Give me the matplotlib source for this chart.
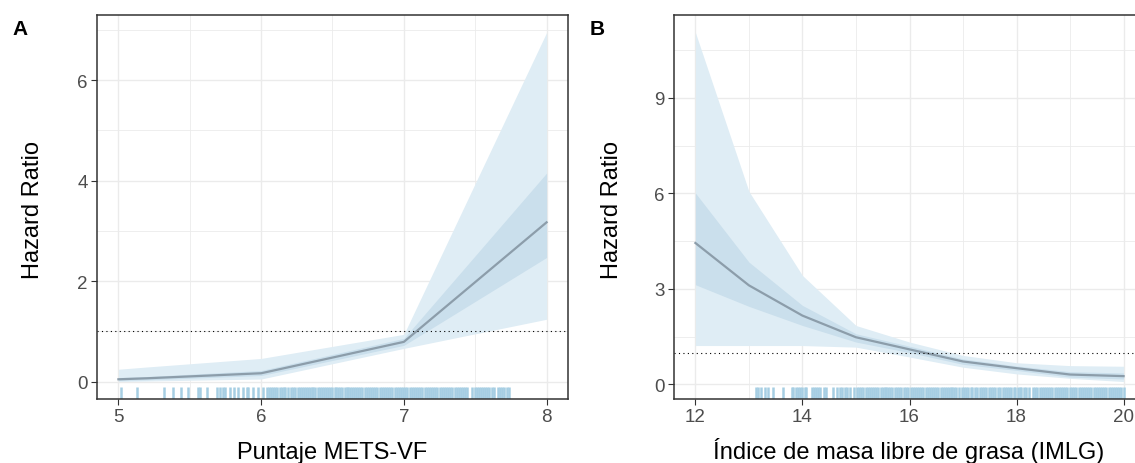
"""
Hazard ratio curves for METS-VF and IMLG (two panels, ggplot-like look)
"""

import matplotlib
matplotlib.use('Agg')
import matplotlib.pyplot as plt
import numpy as np

plt.rcParams['font.family'] = ['Liberation Sans', 'DejaVu Sans']

# ---- panel A: Puntaje METS-VF ----
a_x = [5, 5.2, 6, 7, 8]
a_hr = [0.045, 0.065, 0.165, 0.79, 3.17]
a_lo95 = [0.0, 0.01, 0.05, 0.66, 1.24]
a_hi95 = [0.245, 0.29, 0.46, 0.94, 6.95]
a_lo50 = [0.02, 0.035, 0.12, 0.72, 2.47]
a_hi50 = [0.08, 0.10, 0.22, 0.86, 4.15]
a_rug = [5.02, 5.13, 5.32, 5.38, 5.44, 5.49, 5.555, 5.575, 5.62, 5.69, 5.71, 5.73,
         5.75, 5.78, 5.81, 5.84, 5.87, 5.90, 5.91, 5.94, 5.98, 6.01,
         6.04, 6.055, 6.07, 6.085, 6.10, 6.11, 6.13, 6.145, 6.16, 6.17, 6.185,
         6.21, 6.225, 6.24, 6.255, 6.27, 6.285, 6.30, 6.315, 6.33, 6.345, 6.355,
         6.365, 6.38, 6.395, 6.41, 6.425, 6.44, 6.455, 6.47, 6.485, 6.50, 6.515,
         6.525, 6.54, 6.555, 6.57, 6.585, 6.60, 6.61,
         6.620, 6.635, 6.650, 6.665, 6.680, 6.695, 6.710, 6.725, 6.740, 6.755,
         6.770, 6.785, 6.800, 6.815, 6.830, 6.845, 6.860, 6.875, 6.890, 6.905,
         6.920, 6.935, 6.950, 6.965, 6.980, 6.995, 7.010, 7.025, 7.040, 7.055,
         7.070, 7.085, 7.100, 7.115, 7.130, 7.145, 7.160, 7.175, 7.190, 7.205,
         7.220, 7.235, 7.250, 7.265, 7.280, 7.295, 7.310, 7.325, 7.340, 7.355,
         7.370, 7.385, 7.400, 7.415, 7.430, 7.445,
         7.48, 7.495, 7.51, 7.525, 7.54, 7.555, 7.57, 7.585, 7.60, 7.615, 7.635,
         7.66, 7.675, 7.69, 7.705, 7.72, 7.735]

# ---- panel B: Indice de masa libre de grasa ----
b_x = [12, 13, 14, 15, 16, 17, 18, 19, 20]
b_hr = [4.44, 3.11, 2.16, 1.48, 1.10, 0.72, 0.51, 0.31, 0.26]
b_lo95 = [1.22, 1.22, 1.22, 1.17, 0.86, 0.54, 0.33, 0.19, 0.09]
b_hi95 = [11.05, 6.06, 3.42, 1.85, 1.33, 0.91, 0.68, 0.59, 0.57]
b_lo50 = [3.13, 2.45, 1.85, 1.33, 1.00, 0.63, 0.44, 0.23, 0.17]
b_hi50 = [6.01, 3.84, 2.48, 1.59, 1.20, 0.80, 0.58, 0.40, 0.36]
b_rug = [13.13, 13.17, 13.22, 13.30, 13.36, 13.45, 13.64, 13.80, 13.83,
         13.88, 13.92, 13.96, 14.00, 14.04, 14.06,
         14.17, 14.21, 14.25, 14.29, 14.33, 14.40, 14.44, 14.57, 14.64,
         14.70, 14.74, 14.79, 14.84, 14.89, 14.97, 15.01, 15.06, 15.09,
         15.14, 15.18, 15.22, 15.26, 15.30, 15.34, 15.38,
         15.42, 15.46, 15.50, 15.54, 15.57,
         15.60, 15.64, 15.68, 15.72, 15.76, 15.80, 15.84, 15.90, 15.94,
         15.98, 16.02, 16.06, 16.10, 16.14, 16.18, 16.22,
         16.26, 16.30, 16.34, 16.38, 16.42, 16.46, 16.50, 16.54, 16.58, 16.62,
         16.66, 16.70, 16.73, 16.77, 16.80, 16.84, 16.87, 16.92,
         16.98, 17.02, 17.06, 17.10, 17.14, 17.16,
         17.23, 17.27, 17.31, 17.35, 17.39, 17.43, 17.48, 17.52, 17.56, 17.60,
         17.66, 17.70, 17.74, 17.78, 17.82, 17.86, 17.90, 17.95, 17.98, 18.02,
         18.06, 18.09, 18.14, 18.17, 18.23, 18.30, 18.34, 18.38,
         18.43, 18.47, 18.51, 18.55, 18.59, 18.63, 18.67, 18.71, 18.75, 18.79,
         18.83, 18.87, 18.91, 18.95, 18.99, 19.03,
         19.08, 19.12, 19.16, 19.20, 19.24, 19.28, 19.32, 19.36, 19.40, 19.44,
         19.48, 19.52, 19.56, 19.60, 19.64, 19.68, 19.72, 19.76, 19.80, 19.84,
         19.88, 19.92, 19.96, 20.00]

outer_col = '#DFEDF5'
inner_col = '#CADFEC'
line_col = '#8C9DAA'
rug_col = '#A6CEE3'
grid_col = '#EBEBEB'
frame_col = '#333333'

W, H = 1135, 464
fig = plt.figure(figsize=(W / 100, H / 100), dpi=100)

# axes boxes in pixels: left, right, top, bottom
ax_a = fig.add_axes([97 / W, 1 - 400 / H, 471 / W, 384 / H])
ax_b = fig.add_axes([674 / W, 1 - 400 / H, 471 / W, 384 / H])


def draw_panel(ax, x, hr, lo95, hi95, lo50, hi50, rug, xticks, yticks):
    ax.fill_between(x, lo95, hi95, color=outer_col, lw=0, zorder=2)
    ax.fill_between(x, lo50, hi50, color=inner_col, lw=0, zorder=3)
    ax.plot(x, hr, color=line_col, lw=1.6, zorder=4)
    ax.axhline(1, color='black', lw=0.8, ls=(0, (1, 3)), zorder=5)
    ax.vlines(rug, 0, 0.03, transform=ax.get_xaxis_transform(),
              color=rug_col, lw=1.8, zorder=5)

    # ggplot style 5% expansion
    xr = max(x) - min(x)
    ax.set_xlim(min(x) - 0.05 * xr, max(x) + 0.05 * xr)
    ymin, ymax = min(lo95), max(hi95)
    yr = ymax - ymin
    ax.set_ylim(ymin - 0.05 * yr, ymax + 0.05 * yr)

    ax.set_xticks(xticks)
    ax.set_yticks(yticks)
    ax.set_xticks([(a + b) / 2 for a, b in zip(xticks[:-1], xticks[1:])], minor=True)
    ym = [(a + b) / 2 for a, b in zip(yticks[:-1], yticks[1:])] + [yticks[-1] + (yticks[1] - yticks[0]) / 2]
    ax.set_yticks(ym, minor=True)
    ax.grid(True, which='major', color=grid_col, lw=1.0, zorder=0)
    ax.grid(True, which='minor', color=grid_col, lw=0.6, zorder=0)
    ax.set_axisbelow(True)
    ax.tick_params(which='minor', length=0)
    ax.tick_params(which='major', length=4.3, width=0.8, color=frame_col,
                   labelsize=13.5, labelcolor='#4D4D4D', pad=2.5)
    for s in ax.spines.values():
        s.set_color(frame_col)
        s.set_linewidth(1.1)
        s.set_zorder(6)


draw_panel(ax_a, a_x, a_hr, a_lo95, a_hi95, a_lo50, a_hi50, a_rug, [5, 6, 7, 8], [0, 2, 4, 6])
draw_panel(ax_b, b_x, b_hr, b_lo95, b_hi95, b_lo50, b_hi50, b_rug, [12, 14, 16, 18, 20], [0, 3, 6, 9])

# axis titles
fig.text(33 / W, 1 - 210 / H, 'Hazard Ratio', rotation=90, ha='center', va='center', fontsize=17)
fig.text(612 / W, 1 - 210 / H, 'Hazard Ratio', rotation=90, ha='center', va='center', fontsize=17)
fig.text(332 / W, 1 - 459 / H, 'Puntaje METS-VF', ha='center', va='baseline', fontsize=17)
fig.text(909 / W, 1 - 459 / H, 'Índice de masa libre de grasa (IMLG)', ha='center', va='baseline', fontsize=17)

# panel tags
fig.text(12 / W, 1 - 35 / H, 'A', fontsize=15, fontweight='bold', va='baseline')
fig.text(590 / W, 1 - 35 / H, 'B', fontsize=15, fontweight='bold', va='baseline')

fig.savefig('out.png', dpi=100, facecolor='white')
